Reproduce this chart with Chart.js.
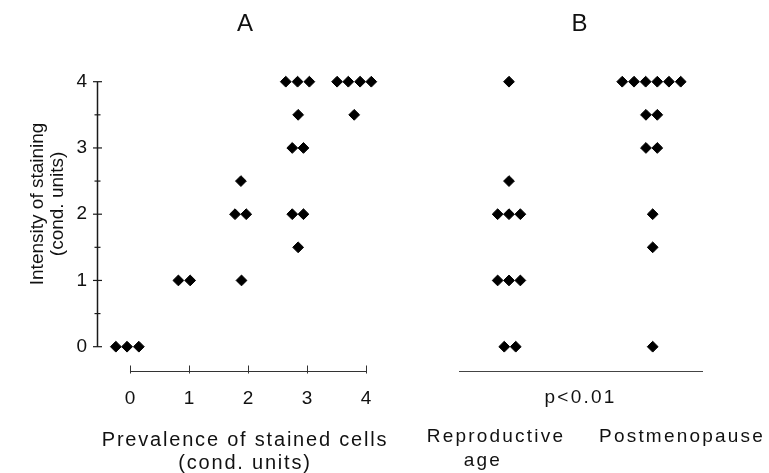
<!DOCTYPE html>
<html><head><meta charset="utf-8">
<script src="https://cdn.jsdelivr.net/npm/chart.js@4.4.1/dist/chart.umd.min.js"></script>
<style>
html,body{margin:0;padding:0;background:#fff;overflow:hidden;width:769px;height:473px;}
#ca{position:absolute;left:0;top:0;}
#cb{position:absolute;left:400px;top:0;}
</style></head><body>
<canvas id="ca" width="400" height="475"></canvas>
<canvas id="cb" width="369" height="475"></canvas>
<script>
// ---------------- data ----------------
const panelTitles = ['A', 'B'];
const prevalenceTicks = [0, 1, 2, 3, 4];
const intensityTicks = [0, 1, 2, 3, 4];
const intensityMinorTicks = [0.5, 1.5, 2.5, 3.5];
// Panel A: prevalence of stained cells (x, as read, side-by-side spread) vs intensity (y)
const prevalenceA = [-0.24, -0.05, 0.15, 0.82, 1.02, 1.88, 1.78, 1.97, 1.89,
  2.64, 2.84, 3.04, 2.85, 2.75, 2.94, 2.75, 2.94, 2.85, 3.51, 3.70, 3.90, 4.09, 3.80];
const intensityA = [0, 0, 0, 1, 1, 2.5, 2, 2, 1,
  4, 4, 4, 3.5, 3, 3, 2, 2, 1.5, 4, 4, 4, 4, 3.5];
// Panel B: group (1 = reproductive age, 2 = postmenopause; as read, with spread) vs intensity
const groupB = [1.0, 1.0, 0.921, 1.0, 1.079, 0.921, 1.0, 1.079, 0.967, 1.047,
  1.788, 1.870, 1.951, 2.032, 2.113, 2.195, 1.953, 2.032, 1.953, 2.032, 2.0, 2.0, 2.0];
const intensityB = [4, 2.5, 2, 2, 2, 1, 1, 1, 0, 0,
  4, 4, 4, 4, 4, 4, 3.5, 3.5, 3, 3, 2, 1.5, 0];
const groupLabelsB = [['Reproductive'], ['', 'age'], ['Postmenopause']];
const pValueText = 'p<0.01';
const axisTitleY = ['Intensity of staining', '(cond. units)'];
const axisTitleXA = ['Prevalence of stained cells', '(cond. units)'];

// ---------------- layout (scale ranges) ----------------
const Y_MIN = -0.3668, Y_MAX = 4.6777;
const XA_MIN = -0.5593, XA_MAX = 4.4576;
const XB_MIN = 0.6521, XB_MAX = 2.3431;
const LABEL_POS_B = [0.9095, 0.819, 2.204];

Chart.defaults.font.family = "'Liberation Sans', Arial, Helvetica, sans-serif";
Chart.defaults.color = '#111';

const marker = {
  pointStyle: 'rectRot', pointRadius: 5.4, pointHoverRadius: 5.4, pointBorderWidth: 1,
  backgroundColor: '#000', borderColor: '#000', showLine: false, clip: false
};
const pts = (xs, ys) => xs.map((x, i) => ({ x, y: ys[i] }));

const axesA = {
  id: 'axesA',
  beforeDatasetsDraw(chart) {
    const { ctx, chartArea, scales: { x, y } } = chart;
    ctx.save();
    const yx = chartArea.left + 0.5;
    ctx.strokeStyle = '#1a1a1a';
    ctx.lineWidth = 1.5;
    ctx.beginPath();
    ctx.moveTo(yx, y.getPixelForValue(intensityTicks[0]));
    ctx.lineTo(yx, y.getPixelForValue(intensityTicks[intensityTicks.length - 1]));
    ctx.stroke();
    ctx.lineWidth = 1.2;
    intensityTicks.forEach(v => {
      const py = y.getPixelForValue(v);
      ctx.beginPath(); ctx.moveTo(yx - 4.5, py); ctx.lineTo(yx + 4.5, py); ctx.stroke();
    });
    intensityMinorTicks.forEach(v => {
      const py = y.getPixelForValue(v);
      ctx.beginPath(); ctx.moveTo(yx - 3, py); ctx.lineTo(yx + 3, py); ctx.stroke();
    });
    const xy = chartArea.bottom + 0.5;
    ctx.strokeStyle = '#333';
    ctx.lineWidth = 1;
    ctx.beginPath();
    ctx.moveTo(x.getPixelForValue(prevalenceTicks[0]), xy);
    ctx.lineTo(x.getPixelForValue(prevalenceTicks[prevalenceTicks.length - 1]), xy);
    ctx.stroke();
    prevalenceTicks.forEach(v => {
      const px = Math.round(x.getPixelForValue(v)) + 0.5;
      ctx.beginPath(); ctx.moveTo(px, xy - 6); ctx.lineTo(px, xy + 2); ctx.stroke();
    });
    ctx.restore();
  }
};
const spacingA = {
  id: 'spacingA',
  afterDatasetsDraw(c) { c.ctx.letterSpacing = '1.8px'; },
  afterDraw(c) { c.ctx.letterSpacing = '0px'; }
};
const spacingB = {
  id: 'spacingB',
  beforeDraw(c) { c.ctx.letterSpacing = '2.2px'; },
  afterDraw(c) { c.ctx.letterSpacing = '0px'; }
};

new Chart(document.getElementById('ca'), {
  type: 'scatter',
  data: { datasets: [Object.assign({ data: pts(prevalenceA, intensityA) }, marker)] },
  plugins: [axesA, spacingA],
  options: {
    responsive: false, animation: false, events: [],
    layout: { padding: { left: 0, right: 7, top: 0, bottom: 0 } },
    plugins: {
      legend: { display: false }, tooltip: { enabled: false },
      title: { display: true, text: panelTitles[0], fullSize: false, color: '#111',
        font: { size: 24, weight: 'normal', lineHeight: '24.8px' }, padding: { top: 12, bottom: 0 } }
    },
    scales: {
      x: {
        type: 'linear', position: 'bottom', min: XA_MIN, max: XA_MAX,
        grid: { display: false, drawTicks: false, z: 1 }, border: { display: false },
        afterBuildTicks: s => { s.ticks = prevalenceTicks.map(v => ({ value: v })); },
        ticks: { font: { size: 19 }, padding: 16, maxRotation: 0, autoSkip: false },
        title: { display: true, text: axisTitleXA, font: { size: 20, lineHeight: '23px' }, padding: { top: 0, bottom: 0 } },
        afterFit: s => { s.height = 104; }
      },
      y: {
        type: 'linear', min: Y_MIN, max: Y_MAX,
        grid: { display: false, drawTicks: false }, border: { display: false },
        afterBuildTicks: s => { s.ticks = intensityTicks.map(v => ({ value: v })); },
        ticks: { font: { size: 19 }, padding: 10 },
        title: { display: true, text: axisTitleY, font: { size: 19, lineHeight: '20px' }, padding: { top: 28, bottom: 0 } },
        afterFit: s => { s.width = 97; }
      }
    }
  }
});

new Chart(document.getElementById('cb'), {
  type: 'scatter',
  data: { datasets: [Object.assign({ data: pts(groupB, intensityB), xAxisID: 'x', yAxisID: 'y' }, marker)] },
  plugins: [spacingB],
  options: {
    responsive: false, animation: false, events: [],
    layout: { padding: { left: 59, right: 67, top: 0, bottom: 0 } },
    plugins: {
      legend: { display: false }, tooltip: { enabled: false },
      title: { display: true, text: panelTitles[1], fullSize: false, color: '#111',
        font: { size: 24, weight: 'normal', lineHeight: '24.8px' }, padding: { top: 12, bottom: 0 } }
    },
    scales: {
      x: {
        type: 'linear', position: 'bottom', weight: 0, min: XB_MIN, max: XB_MAX,
        grid: { display: false, drawTicks: false }, border: { display: true, color: '#444', width: 1 },
        ticks: { display: false },
        title: { display: true, text: pValueText, font: { size: 19, lineHeight: '22px' }, padding: { top: 0, bottom: 12 } },
        afterFit: s => { s.height = 50; }
      },
      x2: {
        type: 'linear', position: 'bottom', weight: 1, min: XB_MIN, max: XB_MAX,
        grid: { display: false, drawTicks: false }, border: { display: false },
        afterBuildTicks: s => { s.ticks = LABEL_POS_B.map(v => ({ value: v })); },
        ticks: { font: { size: 19, lineHeight: '24px' }, padding: 4, autoSkip: false, maxRotation: 0, minRotation: 0,
          callback: (v, i) => groupLabelsB[i] },
        afterFit: s => { s.height = 54; s.paddingLeft = 0; s.paddingRight = 0; }
      },
      y: { type: 'linear', display: false, min: Y_MIN, max: Y_MAX }
    }
  }
});
</script>
</body></html>
